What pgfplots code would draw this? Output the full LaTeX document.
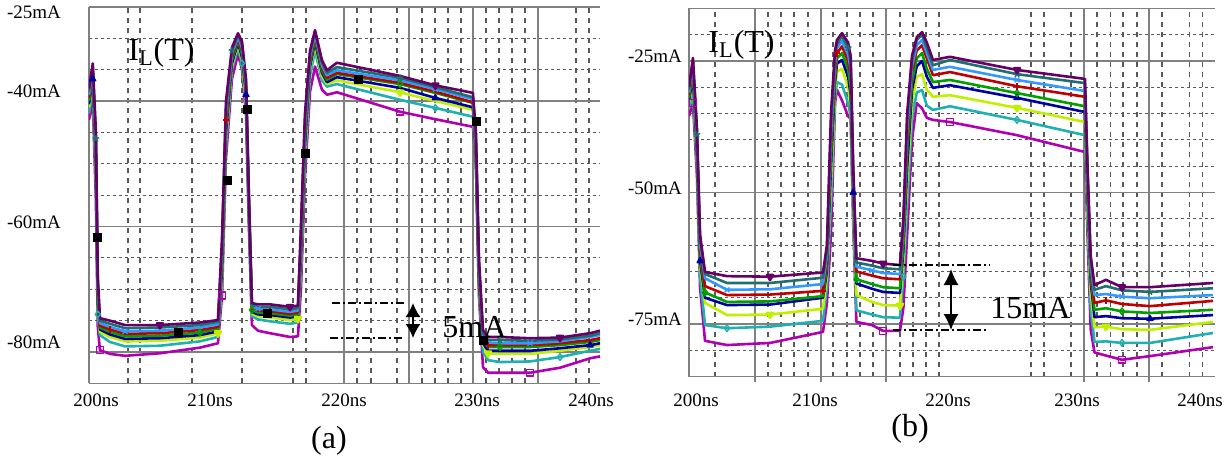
\documentclass[border=0pt]{standalone}
\usepackage{fontspec}
\setmainfont{Liberation Serif}
\usepackage{pgfplots}
\pgfplotsset{compat=1.18}
\usepackage{pgfplotstable}
\usetikzlibrary{arrows.meta}

\definecolor{cPu}{HTML}{660066}
\definecolor{cDt}{HTML}{1F6F6F}
\definecolor{cLb}{HTML}{3399FF}
\definecolor{cRd}{HTML}{C00000}
\definecolor{cGn}{HTML}{00A000}
\definecolor{cNv}{HTML}{0000A0}
\definecolor{cLm}{HTML}{C0F000}
\definecolor{cCy}{HTML}{20B0B0}
\definecolor{cMg}{HTML}{B000B0}
\definecolor{gridgray}{HTML}{808080}

% panel (a): I_L(T) in mA, 9 traces (top to bottom)
\pgfplotstableread{
t      p     dt    lb    r     g     n     l     c     m
199.75 -38.0 -38.5 -39.0 -39.5 -40.0 -40.5 -41.0 -42.0 -43.0
200.05 -34.0 -34.5 -35.0 -35.5 -36.0 -36.5 -37.0 -38.0 -40.0
200.30 -45.0 -46.0 -47.0 -48.0 -49.0 -50.0 -51.0 -53.0 -56.0
200.45 -68.0 -69.0 -70.0 -71.0 -72.0 -72.5 -73.0 -74.0 -76.0
200.62 -74.6 -75.0 -75.4 -75.8 -76.1 -76.4 -76.8 -77.3 -79.7
201.42 -75.0 -75.5 -76.0 -76.4 -76.8 -77.2 -77.6 -78.4 -80.3
202.61 -75.7 -76.2 -76.7 -77.1 -77.5 -77.9 -78.3 -79.1 -80.6
205.39 -75.7 -76.1 -76.6 -77.0 -77.4 -77.8 -78.2 -79.0 -80.2
208.57 -75.3 -75.7 -76.1 -76.5 -76.9 -77.3 -77.7 -78.3 -79.3
210.01 -74.9 -75.2 -75.6 -76.0 -76.3 -76.7 -77.0 -77.6 -78.6
210.33 -62.0 -63.0 -64.0 -65.0 -66.0 -67.0 -68.0 -69.0 -71.0
210.65 -40.0 -41.0 -42.0 -43.0 -44.0 -45.0 -46.0 -47.0 -49.0
211.12 -31.5 -32.0 -32.5 -33.0 -33.5 -34.0 -34.5 -35.0 -36.5
211.60 -29.2 -29.5 -29.8 -30.1 -30.4 -30.7 -31.0 -31.5 -32.5
211.92 -30.5 -31.0 -31.5 -32.0 -32.5 -33.0 -33.5 -34.0 -35.0
212.24 -36.5 -37.0 -37.5 -38.0 -38.5 -39.0 -40.0 -41.0 -42.0
212.47 -55.0 -55.5 -56.0 -56.5 -57.0 -57.5 -58.0 -59.0 -60.0
212.71 -72.2 -72.5 -72.8 -73.1 -73.3 -73.6 -73.9 -74.3 -75.7
213.19 -72.4 -72.8 -73.1 -73.4 -73.7 -74.0 -74.3 -74.8 -76.6
214.14 -72.4 -72.8 -73.2 -73.5 -73.8 -74.1 -74.5 -75.1 -77.0
215.74 -72.8 -73.2 -73.6 -73.9 -74.2 -74.5 -74.9 -75.5 -77.6
216.37 -72.6 -73.0 -73.4 -73.7 -74.0 -74.3 -74.7 -75.3 -77.5
216.61 -60.0 -61.0 -62.0 -63.0 -64.0 -65.0 -66.0 -67.0 -70.0
216.93 -42.0 -43.0 -44.0 -45.0 -46.0 -47.0 -48.0 -50.0 -52.0
217.33 -32.0 -32.5 -33.0 -33.5 -34.0 -34.5 -35.0 -36.0 -38.5
217.73 -28.7 -29.0 -29.4 -29.8 -30.2 -30.6 -31.1 -32.0 -34.5
218.28 -33.5 -33.9 -34.3 -34.7 -35.1 -35.5 -36.0 -36.7 -38.2
218.68 -35.1 -35.5 -35.9 -36.3 -36.6 -37.0 -37.3 -37.7 -39.0
219.47 -33.9 -34.6 -35.1 -35.5 -35.7 -36.2 -36.7 -37.3 -38.6
224.49 -36.0 -36.3 -36.7 -37.1 -37.3 -37.9 -38.6 -39.8 -41.7
227.30 -37.5 -37.8 -38.1 -38.5 -38.7 -39.5 -40.0 -41.1 -42.9
230.29 -38.7 -39.4 -39.7 -40.2 -40.3 -41.0 -41.4 -42.5 -44.1
230.53 -45.0 -46.0 -47.0 -48.0 -48.5 -49.0 -49.5 -50.0 -50.0
230.77 -65.0 -66.0 -67.0 -68.0 -68.5 -69.0 -69.5 -70.0 -71.0
231.09 -76.5 -77.0 -77.4 -77.8 -78.1 -78.6 -78.9 -80.0 -82.4
231.50 -77.6 -78.1 -78.5 -78.9 -79.2 -79.8 -80.2 -81.3 -83.3
232.44 -77.6 -78.1 -78.6 -78.9 -79.2 -79.8 -80.3 -81.6 -83.3
234.83 -77.8 -78.2 -78.6 -78.9 -79.2 -79.8 -80.3 -81.5 -83.3
237.22 -77.7 -78.0 -78.3 -78.6 -78.9 -79.4 -79.8 -80.8 -82.5
239.61 -77.0 -77.4 -77.6 -78.1 -78.4 -78.9 -79.2 -79.8 -81.0
240.40 -76.6 -77.0 -77.3 -77.8 -78.1 -78.6 -78.9 -79.5 -80.7
}\dataA

% panel (b)
\pgfplotstableread{
t      p     dt    lb    r     g     n     l     c     m
199.67 -30.0 -30.5 -31.0 -31.5 -32.0 -32.5 -33.0 -34.0 -35.5
199.98 -24.4 -25.0 -25.5 -26.0 -27.0 -28.0 -29.0 -31.0 -33.0
200.30 -38.0 -39.0 -40.0 -41.0 -42.0 -43.0 -44.0 -45.0 -47.0
200.54 -58.0 -59.0 -60.0 -61.0 -62.0 -63.0 -64.0 -66.0 -68.0
200.93 -65.1 -65.5 -66.3 -67.8 -69.0 -70.0 -71.0 -75.2 -78.2
202.66 -65.9 -67.2 -68.5 -69.5 -70.8 -71.4 -73.3 -75.8 -79.0
206.05 -66.0 -67.2 -68.4 -69.4 -70.7 -71.3 -73.2 -75.5 -78.6
210.22 -65.2 -66.2 -67.4 -68.7 -69.7 -70.0 -72.1 -74.4 -76.5
210.53 -60.0 -61.0 -62.0 -63.0 -64.0 -65.0 -66.0 -68.0 -71.0
210.85 -35.0 -37.0 -39.0 -41.0 -43.0 -45.0 -48.0 -52.0 -58.0
211.17 -23.0 -24.0 -25.5 -27.0 -28.0 -29.0 -30.5 -32.0 -33.0
211.32 -21.0 -21.8 -22.5 -23.5 -24.5 -25.5 -27.0 -29.0 -30.5
211.72 -19.7 -20.3 -21.2 -22.2 -23.5 -24.8 -26.5 -29.5 -32.5
212.20 -21.5 -22.5 -23.8 -25.0 -26.5 -28.0 -30.0 -33.0 -35.5
212.40 -24.0 -25.0 -26.5 -28.0 -30.0 -31.5 -33.5 -35.5 -36.0
212.60 -45.0 -46.0 -47.0 -48.0 -49.0 -50.0 -52.0 -54.0 -56.0
212.85 -62.5 -63.3 -64.1 -65.0 -66.5 -67.3 -69.5 -72.4 -74.6
214.08 -63.0 -63.9 -64.8 -65.8 -67.4 -68.3 -70.8 -73.2 -75.2
214.95 -63.5 -64.4 -65.3 -66.3 -68.0 -68.9 -71.4 -73.7 -76.3
216.28 -63.8 -64.6 -65.5 -66.5 -68.2 -69.1 -71.5 -73.8 -76.3
216.55 -55.0 -56.0 -57.0 -58.0 -60.0 -61.0 -63.0 -66.0 -72.0
216.85 -35.0 -36.0 -38.0 -40.0 -42.0 -45.0 -48.0 -52.0 -58.0
217.23 -24.0 -25.0 -26.0 -27.0 -29.0 -30.5 -33.0 -36.0 -40.0
217.60 -20.5 -21.0 -22.0 -23.0 -24.5 -26.0 -28.0 -31.0 -33.0
218.02 -19.5 -20.0 -21.0 -22.0 -23.5 -25.0 -27.5 -30.5 -34.0
218.40 -21.5 -22.5 -23.5 -24.5 -26.5 -28.0 -30.5 -33.5 -35.8
218.88 -24.8 -25.8 -26.7 -27.7 -29.0 -30.1 -31.8 -34.3 -36.2
220.22 -24.2 -24.8 -26.1 -27.1 -28.6 -29.6 -31.5 -33.6 -36.6
225.50 -26.7 -27.5 -28.6 -29.8 -31.1 -32.0 -33.9 -36.2 -39.1
230.85 -28.4 -29.2 -30.7 -31.8 -33.6 -34.7 -36.6 -39.1 -42.3
231.05 -45.0 -46.0 -47.0 -48.0 -50.0 -51.0 -53.0 -55.0 -58.0
231.30 -62.0 -63.0 -64.0 -65.0 -66.0 -67.0 -69.0 -72.0 -76.0
231.60 -67.6 -68.5 -69.5 -71.0 -72.3 -73.7 -75.6 -78.4 -80.4
232.50 -66.6 -67.8 -69.3 -70.5 -72.0 -73.5 -75.5 -78.3 -81.0
233.77 -68.0 -68.6 -69.8 -71.2 -72.6 -73.9 -76.0 -78.6 -81.8
235.97 -68.0 -68.9 -70.1 -71.6 -72.9 -74.0 -76.1 -78.6 -81.1
240.93 -67.2 -68.2 -69.5 -70.6 -72.3 -73.3 -74.6 -76.7 -79.4
}\dataB

\pgfplotsset{
  panel/.style={
    scale only axis,
    axis lines*=left,
    axis line style={gridgray, line width=0.75pt},
    tick label style={font=\fontsize{9.5}{11}\selectfont},
    major tick length=0pt, minor tick length=0pt,
    xminorgrids=true, yminorgrids=true,
    major grid style={gridgray, line width=0.75pt, solid},
    minor x grid style={black!65, line width=0.6pt, dash pattern=on 2.5pt off 2.5pt},
    minor y grid style={black!65, line width=0.55pt, dash pattern=on 1.5pt off 1.5pt},
    extra x tick labels={}, extra y tick labels={},
    extra y tick style={grid=major},
    xticklabels={200ns,210ns,220ns,230ns,240ns},
  },
  wave/.style={line width=1.3pt, line join=round, mark size=1.7pt, mark options={solid, line width=0.7pt}},
}

\begin{document}
\begin{tikzpicture}
\useasboundingbox (0,0) rectangle (614.5pt,231pt);

% ---------- (a) ----------
\begin{axis}[panel,
  at={(44.5pt,39.3pt)}, anchor=south west,
  width=255.5pt, height=188.25pt,
  xmin=199.75, xmax=240.40, ymin=-85, ymax=-25,
  xtick={200.31,209.38,220.04,230.62,239.69},
  xticklabel style={yshift=-1.5pt},
  ytick={-25.82,-38.41,-59.28,-78.41},
  yticklabels={-25mA,-40mA,-60mA,-80mA},
  yticklabel style={anchor=west, xshift=-44.5pt},
  extra x ticks={220.04,225.21,230.30,235.47},
  extra x tick style={grid=major},
  extra y ticks={-40,-60,-80,-25},
  minor xtick={202.85,203.81,207.94,211.92,215.98,217.01,221.07,222.18,224.25,226.24,227.28,228.31,229.34,231.33,232.37,233.40,234.44,238.49,239.53},
  minor ytick={-30,-35,-45,-50,-55,-65,-70,-75},
]
\addplot[wave, cMg, mark=square, mark indices={5,11,30,38}] table[x=t,y=m]{\dataA};
\addplot[wave, cCy, mark=diamond, mark indices={4,15,31,39}] table[x=t,y=c]{\dataA};
\addplot[wave, cLm, mark=triangle*, mark options={rotate=180}, mark indices={10,22,30,36}] table[x=t,y=l]{\dataA};
\addplot[wave, cNv, mark=triangle*, mark indices={2,16,31,40}] table[x=t,y=n]{\dataA};
\addplot[wave, cGn, mark=diamond, mark indices={9,18,30,37}] table[x=t,y=g]{\dataA};
\addplot[wave, cRd, mark=+, mark indices={6,12,20,36}] table[x=t,y=r]{\dataA};
\addplot[wave, cLb, mark=x, mark indices={7,19,31,38}] table[x=t,y=lb]{\dataA};
\addplot[wave, cDt, mark=star, mark indices={3,13,30,37}] table[x=t,y=dt]{\dataA};
\addplot[wave, cPu, mark=triangle, mark options={rotate=180}, mark indices={8,21,31,39}] table[x=t,y=p]{\dataA};
\addplot[only marks, mark=square*, mark size=2pt, black] coordinates {
  (200.39,-61.7) (206.83,-76.8) (210.73,-52.6) (212.32,-41.4) (213.91,-73.8)
  (216.93,-48.3) (221.15,-36.5) (230.54,-43.2) (231.09,-78.1)
};
\end{axis}

% ---------- (b) ----------
\begin{axis}[panel,
  at={(344.5pt,42.7pt)}, anchor=south west,
  width=263pt, height=184.1pt,
  xmin=199.67, xmax=241.09, ymin=-85, ymax=-15,
  xtick={200.22,209.59,220.06,230.22,239.91},
  xticklabel style={yshift=-5pt},
  ytick={-24.05,-49.1,-74.05},
  yticklabels={-25mA,-50mA,-75mA},
  extra x ticks={204.87,210.06,215.18,230.77,235.89},
  extra x tick style={grid=major, major tick length=2.5pt, tick align=outside, tick style={gridgray, line width=0.75pt}},
  extra y ticks={-25,-50,-75,-15},
  minor xtick={201.72,205.89,206.91,207.94,209.04,211.01,212.11,213.13,214.16,216.28,217.31,218.33,219.36,226.6,227.62,229.75,231.80,232.83,233.84,234.95,236.92,239.05,240.08},
  minor ytick={-20,-30,-35,-40,-45,-55,-60,-65,-70,-80},
]
\addplot[wave, cMg, mark=square, mark indices={2,19,28,35}] table[x=t,y=m]{\dataB};
\addplot[wave, cCy, mark=diamond, mark indices={6,21,29,35}] table[x=t,y=c]{\dataB};
\addplot[wave, cLm, mark=triangle*, mark options={rotate=180}, mark indices={7,20,29,34}] table[x=t,y=l]{\dataB};
\addplot[wave, cNv, mark=triangle*, mark indices={4,16,29,36}] table[x=t,y=n]{\dataB};
\addplot[wave, cGn, mark=diamond, mark indices={5,17,29,35}] table[x=t,y=g]{\dataB};
\addplot[wave, cRd, mark=+, mark indices={8,12,29,34}] table[x=t,y=r]{\dataB};
\addplot[wave, cLb, mark=x, mark indices={6,18,29,35}] table[x=t,y=lb]{\dataB};
\addplot[wave, cDt, mark=star, mark indices={3,14,29,36}] table[x=t,y=dt]{\dataB};
\addplot[wave, cPu, mark=triangle, mark options={rotate=180}, mark indices={7,19,29,35}] table[x=t,y=p]{\dataB};
\end{axis}

% annotations
\tikzset{dd/.style={black, line width=0.6pt, dash pattern=on 4pt off 1.5pt on 1pt off 1.5pt}}
\node[anchor=base west, inner sep=0, font=\fontsize{16}{18}\selectfont] at (64pt,201pt) {I\textsubscript{L}(T)};
\node[anchor=base west, inner sep=0, font=\fontsize{16}{18}\selectfont] at (354pt,205pt) {I\textsubscript{L}(T)};
\draw[dd] (166pt,79.5pt) -- (203.5pt,79.5pt);
\draw[dd] (165pt,62pt) -- (201.5pt,62pt);
\draw[black, line width=0.8pt, {Latex[length=7pt,width=7.5pt]}-{Latex[length=7pt,width=7.5pt]}] (206.5pt,79.5pt) -- (206.5pt,62pt);
\node[anchor=west, inner sep=0, font=\fontsize{16}{18}\selectfont] at (221pt,67.5pt) {5mA};
\draw[dd] (446.5pt,98.5pt) -- (495pt,98.5pt);
\draw[dd] (446.5pt,66pt) -- (493.5pt,66pt);
\draw[black, line width=0.8pt, {Latex[length=8pt,width=7.5pt]}-{Latex[length=8pt,width=7.5pt]}] (475.5pt,96.5pt) -- (475.5pt,66pt);
\node[anchor=west, inner sep=0, font=\fontsize{16}{18}\selectfont] at (495pt,77pt) {15mA};
\node[font=\fontsize{16}{18}\selectfont] at (164.5pt,10.5pt) {(a)};
\node[font=\fontsize{16}{18}\selectfont] at (455pt,16.5pt) {(b)};
\end{tikzpicture}
\end{document}
